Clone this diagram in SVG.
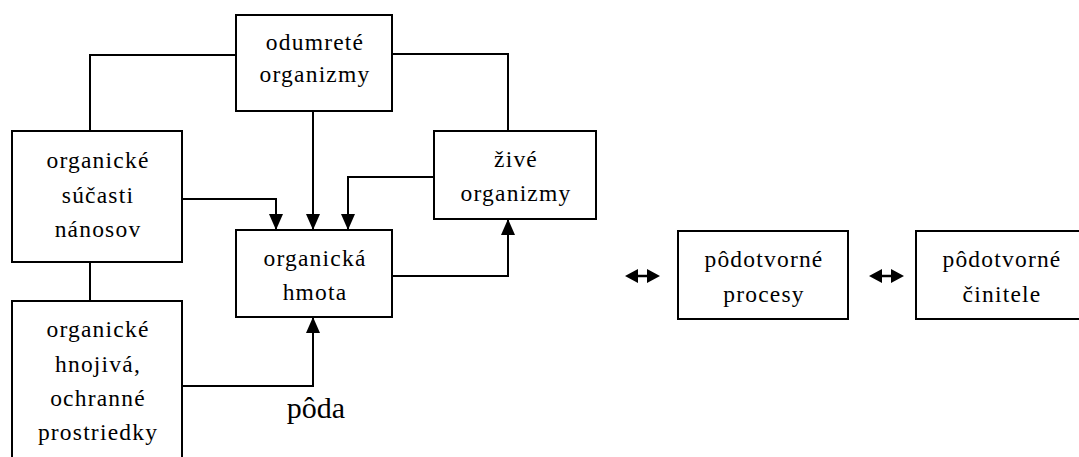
<svg xmlns="http://www.w3.org/2000/svg" width="1079" height="457" viewBox="0 0 1079 457">
<style>
.box{fill:#fff;stroke:#000;stroke-width:2}
.c{fill:none;stroke:#000;stroke-width:2}
</style>
<defs>
<marker id="ah" markerUnits="userSpaceOnUse" markerWidth="16" markerHeight="14" refX="16" refY="7" orient="auto">
<path d="M0,0 L16,7 L0,14 z" fill="#000"/>
</marker>
</defs>
<rect width="1079" height="457" fill="#fff"/>
<g id="connectors">
<polyline class="c" points="236,55 90,55 90,131"/>
<polyline class="c" points="392,54 508,54 508,131"/>
<polyline class="c" points="182,199 276,199 276,230" marker-end="url(#ah)"/>
<polyline class="c" points="313,111 313,230" marker-end="url(#ah)"/>
<polyline class="c" points="434,177 348,177 348,230" marker-end="url(#ah)"/>
<polyline class="c" points="392,276 508,276 508,219" marker-end="url(#ah)"/>
<polyline class="c" points="90,262 90,301"/>
<polyline class="c" points="182,386 313,386 313,317" marker-end="url(#ah)"/>
<g id="dbl1">
<path d="M625,276 L638,269 L638,283 z M660,276 L647,269 L647,283 z" fill="#000"/>
<line x1="637" y1="276" x2="648" y2="276" stroke="#000" stroke-width="2.5"/>
</g>
<g id="dbl2">
<path d="M869,276 L882,269 L882,283 z M904,276 L891,269 L891,283 z" fill="#000"/>
<line x1="881" y1="276" x2="892" y2="276" stroke="#000" stroke-width="2.5"/>
</g>
</g>
<g font-family="Liberation Serif, Times New Roman, serif" font-size="23.5" letter-spacing="1.2" text-anchor="middle" fill="#000">
<g id="odumrete">
<rect class="box" x="236" y="15" width="156" height="96"/>
<text x="315" y="50">odumreté</text>
<text x="315" y="82">organizmy</text>
</g>
<g id="sucasti">
<rect class="box" x="12" y="131" width="170" height="131"/>
<text x="98" y="168">organické</text>
<text x="98" y="203">súčasti</text>
<text x="98" y="237">nánosov</text>
</g>
<g id="hnojiva">
<rect class="box" x="12" y="301" width="170" height="170"/>
<text x="98" y="337">organické</text>
<text x="98" y="372">hnojivá,</text>
<text x="98" y="406">ochranné</text>
<text x="98" y="440">prostriedky</text>
</g>
<g id="hmota">
<rect class="box" x="236" y="230" width="156" height="87"/>
<text x="315" y="266">organická</text>
<text x="315" y="300">hmota</text>
</g>
<g id="zive">
<rect class="box" x="434" y="131" width="162" height="88"/>
<text x="516" y="167">živé</text>
<text x="516" y="201">organizmy</text>
</g>
<g id="procesy">
<rect class="box" x="678" y="231" width="170" height="88"/>
<text x="764" y="267">pôdotvorné</text>
<text x="764" y="302">procesy</text>
</g>
<g id="cinitele">
<rect class="box" x="916" y="231" width="200" height="88"/>
<text x="1002" y="267">pôdotvorné</text>
<text x="1002" y="302">činitele</text>
</g>
<g id="poda">
<text x="316" y="418" font-size="30" letter-spacing="0">pôda</text>
</g>
</g>
</svg>
